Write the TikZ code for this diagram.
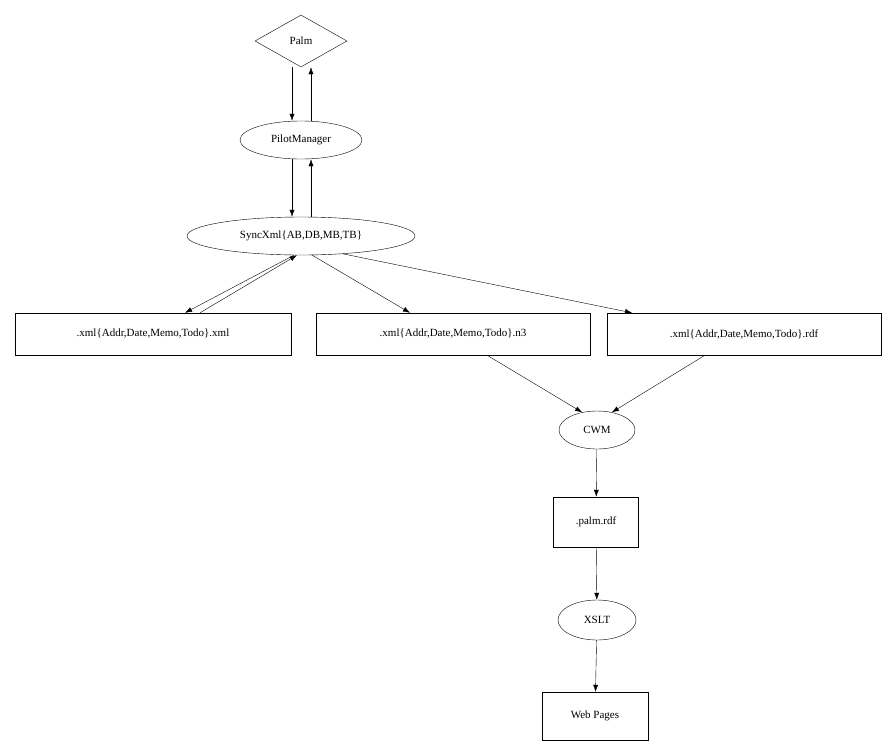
\documentclass[tikz,border=0pt]{standalone}
\usepackage{fontspec}
\setmainfont{Liberation Serif}
\usetikzlibrary{shapes.geometric,arrows.meta}
\begin{document}
\begin{tikzpicture}[x=1pt,y=-1pt,font=\fontsize{11}{13}\selectfont,
  boxstyle/.style={rectangle,draw,minimum height=42,inner sep=4},
  ovalstyle/.style={ellipse,draw,minimum height=38,inner sep=1},
  flow/.style={-{Latex[length=7,width=5]}}]
\useasboundingbox (0,0) rectangle (894,753);
\node[diamond,draw,minimum width=92,minimum height=52,inner sep=0](Palm) at (301,41){Palm};
\node[ovalstyle,minimum width=122](PM) at (301,140){PilotManager};
\node[ovalstyle,minimum width=228](Sync) at (301,236){SyncXml\{AB,DB,MB,TB\}};
\node[boxstyle,minimum width=276](Xml) at (153,334){.xml\{Addr,Date,Memo,Todo\}.xml};
\node[boxstyle,minimum width=274](Nthree) at (453,334){.xml\{Addr,Date,Memo,Todo\}.n3};
\node[boxstyle,minimum width=274](Rdf) at (744,334){.xml\{Addr,Date,Memo,Todo\}.rdf};
\node[ovalstyle,minimum width=76](CWM) at (597,430){CWM};
\node[boxstyle,minimum width=85,minimum height=50](PalmRdf) at (596,522){.palm.rdf};
\node[ovalstyle,minimum width=78,minimum height=40](XSLT) at (597,620){XSLT};
\node[boxstyle,minimum width=106,minimum height=48](Web) at (595,716){Web Pages};
\draw[flow] ([xshift=-9]Palm.south) -- ([xshift=-9]PM.north);
\draw[flow] ([xshift=10]PM.north) -- ([xshift=10]Palm.south);
\draw[flow] ([xshift=-9]PM.south) -- ([xshift=-9]Sync.north);
\draw[flow] ([xshift=10]Sync.north) -- ([xshift=10]PM.south);
\draw[flow] (Sync.250) -- ([xshift=32]Xml.north);
\draw[flow] ([xshift=47]Xml.north) -- (Sync.258);
\draw[flow] (Sync.300) -- ([xshift=-43]Nthree.north);
\draw[flow] (Sync.337) -- ([xshift=-112]Rdf.north);
\draw[flow] ([xshift=34]Nthree.south) -- (CWM.130);
\draw[flow] ([xshift=-39]Rdf.south) -- (CWM.50);
\draw[flow] (CWM) -- (PalmRdf);
\draw[flow] (PalmRdf) -- (XSLT);
\draw[flow] (XSLT) -- (Web);
\end{tikzpicture}
\end{document}
